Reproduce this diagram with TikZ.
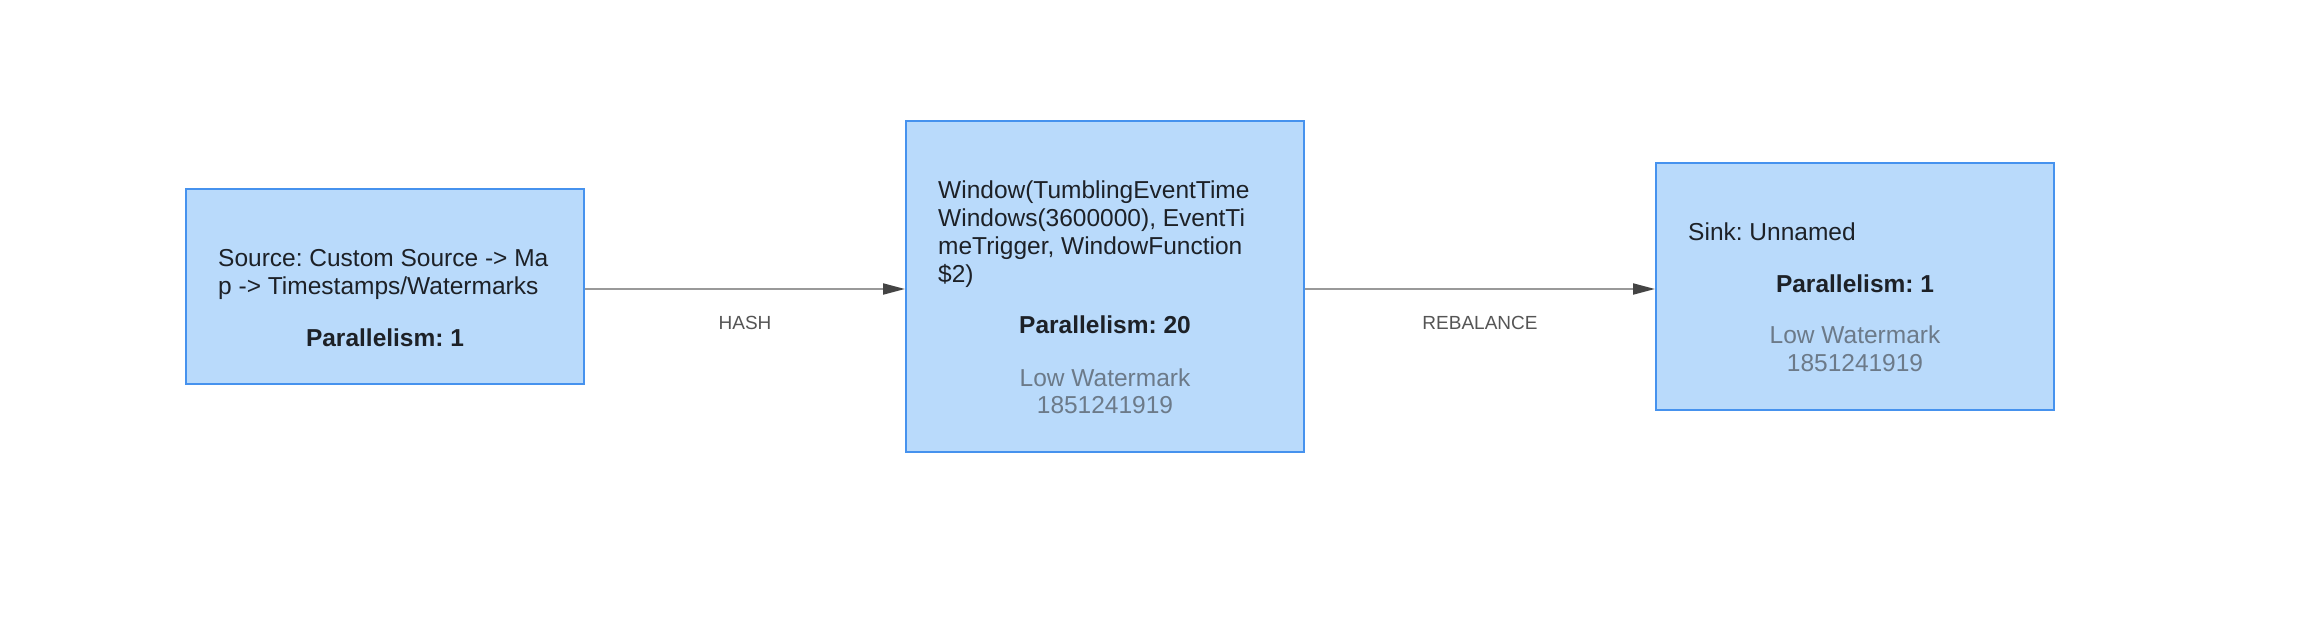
\documentclass[tikz,border=0pt]{standalone}
\usepackage{fontspec}
\setmainfont{Liberation Sans}
\usetikzlibrary{arrows.meta}
\frenchspacing

\begin{document}
\begin{tikzpicture}[x=1pt,y=-1pt,
  opbox/.style={draw=opborder,fill=opfill,line width=2pt,minimum width=398pt},
  optitle/.style={anchor=north west,inner sep=0pt,align=left,text=optext,font=\fontsize{24.5}{28}\selectfont},
  opbold/.style={anchor=base,inner sep=0pt,text=optext,font=\fontsize{24.5}{28}\selectfont\bfseries},
  opmark/.style={anchor=north,inner sep=0pt,align=center,text=opgray,font=\fontsize{24.5}{27.6}\selectfont},
  flow/.style={-{Triangle[length=22pt,width=11pt,color=tipgray]},line width=2pt,color=linegray},
  elabel/.style={anchor=base,inner sep=0pt,text=labelgray,font=\fontsize{19}{22}\selectfont}]

\definecolor{opfill}{RGB}{185,218,251}
\definecolor{opborder}{RGB}{70,146,238}
\definecolor{optext}{RGB}{29,33,39}
\definecolor{opgray}{RGB}{108,122,137}
\definecolor{linegray}{RGB}{153,153,153}
\definecolor{tipgray}{RGB}{68,68,68}
\definecolor{labelgray}{RGB}{85,85,85}

\useasboundingbox (0,0) rectangle (2318,640);

\node[opbox,minimum height=195pt] (src) at (385,286.5) {};
\node[opbox,minimum height=331pt] (win) at (1105,286.5) {};
\node[opbox,minimum height=247pt] (sink) at (1855,286.5) {};

\node[optitle] (srctitle) at (218,249.2) {Source: Custom Source -> Ma\\p -> Timestamps/Watermarks};
\node[opbold] (srcpar) at (385,346) {Parallelism: 1};

\node[optitle] (wintitle) at (938,180.2) {Window(TumblingEventTime\\Windows(3600000), EventTi\\meTrigger, WindowFunction\\\$2)};
\node[opbold] (winpar) at (1105,333.3) {Parallelism: 20};
\node[opmark] (winmark) at (1105,368.2) {Low Watermark\\1851241919};

\node[optitle] (sinktitle) at (1688,222.5) {Sink: Unnamed};
\node[opbold] (sinkpar) at (1855,292.7) {Parallelism: 1};
\node[opmark] (sinkmark) at (1855,325.8) {Low Watermark\\1851241919};

\draw[flow] ([yshift=-2.5pt]src.east) -- ([yshift=-2.5pt]win.west)
  node[midway,yshift=-40pt,elabel] (hash) {HASH};
\draw[flow] ([yshift=-2.5pt]win.east) -- ([yshift=-2.5pt]sink.west)
  node[midway,yshift=-40pt,elabel] (rebal) {REBALANCE};

\end{tikzpicture}
\end{document}
